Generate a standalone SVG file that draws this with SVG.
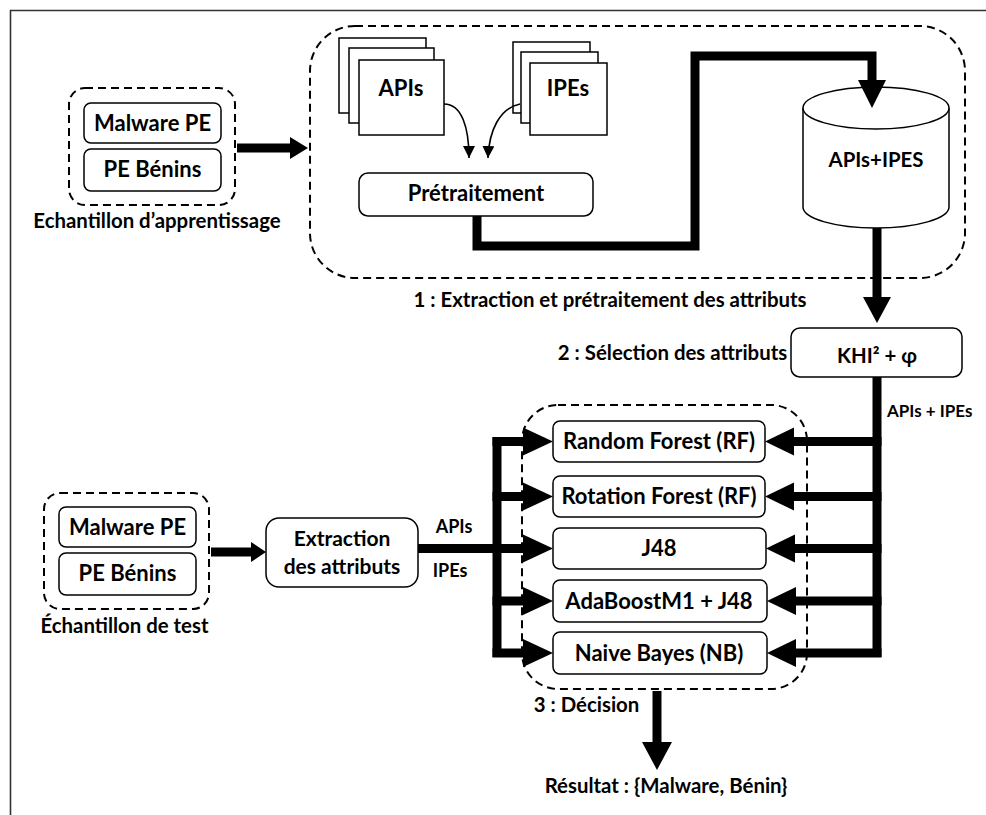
<svg xmlns="http://www.w3.org/2000/svg" width="986" height="815" viewBox="0 0 986 815">
<defs>
<style>
text{font-family:Lato,"Liberation Sans",sans-serif;font-weight:bold;fill:#000;text-anchor:middle;}
.t{font-size:22px;}
.c{font-size:20.4px;}
.e{font-size:21px;}
.m{font-size:18px;}
.s{font-size:17px;text-anchor:start;}
.box{fill:#fff;stroke:#000;stroke-width:1.5;}
.dash{fill:none;stroke:#000;stroke-width:2;stroke-dasharray:8 5;}
.thick{fill:none;stroke:#000;stroke-width:9;}
.thin{fill:none;stroke:#000;stroke-width:1.6;}
.head{fill:#000;stroke:none;}
</style>
<marker id="sm" markerUnits="userSpaceOnUse" markerWidth="12" markerHeight="14" refX="12" refY="6" orient="auto">
<path d="M0,0 L12,6 L0,12 Z" fill="#000"/>
</marker>
</defs>
<rect width="986" height="815" fill="#fff"/>
<path d="M10.5,815 V10.5 H986" fill="none" stroke="#333" stroke-width="1.6"/>

<g id="train-group">
<rect class="dash" x="69" y="88" width="166" height="117" rx="16"/>
<rect class="box" x="84" y="103" width="137" height="40" rx="7"/>
<text class="t" x="152.5" y="131">Malware PE</text>
<rect class="box" x="84" y="149" width="137" height="42" rx="7"/>
<text class="t" x="152.5" y="177">PE Bénins</text>
<text class="c" x="157" y="228">Echantillon d’apprentissage</text>
</g>

<g id="stage1">
<rect class="dash" x="310" y="26" width="655" height="252" rx="45"/>
<text class="c" x="610" y="307">1 : Extraction et prétraitement des attributs</text>
</g>

<g id="apis">
<rect class="box" x="339" y="38" width="87" height="75"/>
<rect class="box" x="349" y="48" width="85" height="75"/>
<rect class="box" x="359" y="60" width="85" height="75"/>
<text class="t" x="401" y="96">APIs</text>
</g>

<g id="ipes">
<rect class="box" x="513" y="42" width="77" height="71"/>
<rect class="box" x="521" y="52" width="77" height="71"/>
<rect class="box" x="530" y="63" width="77" height="72"/>
<text class="t" x="568" y="96">IPEs</text>
</g>

<g id="pretraitement">
<rect class="box" x="359" y="173" width="234" height="43" rx="9"/>
<text class="t" x="476" y="201">Prétraitement</text>
</g>

<g id="db">
<path class="box" d="M803,108 V207 A73,21 0 0 0 949,207 V108"/>
<ellipse class="box" cx="876" cy="108" rx="73" ry="21"/>
<text class="c" x="876" y="167">APIs+IPES</text>
</g>

<g id="khi">
<rect class="box" x="791" y="328" width="171" height="49" rx="9"/>
<text class="c" x="877" y="363">KHI² + φ</text>
<text class="c" x="672.5" y="360">2 : Sélection des attributs</text>
</g>

<g id="classifiers">
<rect class="dash" x="522" y="405" width="285" height="284" rx="36"/>
<rect class="box" x="553" y="421" width="212" height="41" rx="7"/>
<text class="t" x="659" y="449">Random Forest (RF)</text>
<rect class="box" x="553" y="476" width="212" height="41" rx="7"/>
<text class="t" x="659" y="504">Rotation Forest (RF)</text>
<rect class="box" x="553" y="528" width="213" height="41" rx="7"/>
<text class="t" x="659" y="556">J48</text>
<rect class="box" x="553" y="580" width="214" height="42" rx="7"/>
<text class="t" x="659" y="608.5">AdaBoostM1 + J48</text>
<rect class="box" x="553" y="632" width="214" height="42" rx="7"/>
<text class="t" x="659" y="660.5">Naive Bayes (NB)</text>
<text class="c" x="586.5" y="712">3 : Décision</text>
</g>

<g id="test-group">
<rect class="dash" x="44" y="493" width="165" height="116" rx="16"/>
<rect class="box" x="59" y="507" width="137" height="40" rx="7"/>
<text class="t" x="127.5" y="535">Malware PE</text>
<rect class="box" x="59" y="553" width="137" height="42" rx="7"/>
<text class="t" x="127.5" y="581">PE Bénins</text>
<text class="c" x="124.5" y="633">Échantillon de test</text>
</g>

<g id="extraction">
<rect class="box" x="266" y="518" width="152" height="69" rx="13"/>
<text class="e" x="342" y="546">Extraction</text>
<text class="e" x="342" y="574">des attributs</text>
</g>

<g id="result">
<text class="c" x="666" y="793">Résultat : {Malware, Bénin}</text>
</g>

<g id="connectors">
<path class="thin" d="M444,104 C462,104 469,128 469,158" marker-end="url(#sm)"/>
<path class="thin" d="M520,104 C500,108 489,130 488,158" marker-end="url(#sm)"/>

<path class="thick" d="M237,148 H291"/>
<path class="head" d="M290,137 L308,148 L290,159 Z"/>

<path class="thick" d="M477,216 V246 H695 V56 H872 V82"/>
<path class="head" d="M858,80 L886,80 L872,108 Z"/>

<path class="thick" d="M877,228 V298"/>
<path class="head" d="M863,297 L891,297 L877,323 Z"/>

<path class="thick" d="M877,377 V657"/>
<path class="thick" d="M881.5,441.5 H792"/>
<path class="thick" d="M881.5,496.5 H792"/>
<path class="thick" d="M881.5,548.5 H792"/>
<path class="thick" d="M881.5,601 H792"/>
<path class="thick" d="M881.5,653 H792"/>
<path class="head" d="M794,427.5 L794,455.5 L765,441.5 Z"/>
<path class="head" d="M794,482.5 L794,510.5 L765,496.5 Z"/>
<path class="head" d="M795,534.5 L795,562.5 L766,548.5 Z"/>
<path class="head" d="M796,587 L796,615 L767,601 Z"/>
<path class="head" d="M796,639 L796,667 L767,653 Z"/>

<path class="thick" d="M497,437 V657"/>
<path class="thick" d="M492.5,441.5 H525"/>
<path class="thick" d="M492.5,496.5 H525"/>
<path class="thick" d="M418,548.5 H525"/>
<path class="thick" d="M492.5,601 H525"/>
<path class="thick" d="M492.5,653 H525"/>
<path class="head" d="M523,427.5 L523,455.5 L553,441.5 Z"/>
<path class="head" d="M523,482.5 L523,510.5 L553,496.5 Z"/>
<path class="head" d="M523,534.5 L523,562.5 L553,548.5 Z"/>
<path class="head" d="M523,587 L523,615 L553,601 Z"/>
<path class="head" d="M523,639 L523,667 L553,653 Z"/>

<path class="thick" d="M211,552 H252"/>
<path class="head" d="M251,542 L266,552 L251,562 Z"/>

<path class="thick" d="M657,691 V743"/>
<path class="head" d="M642,742 L672,742 L657,770 Z"/>

<text class="s" x="887" y="417">APIs + IPEs</text>
<text class="m" x="454" y="533">APIs</text>
<text class="m" x="450" y="577">IPEs</text>
</g>
</svg>
